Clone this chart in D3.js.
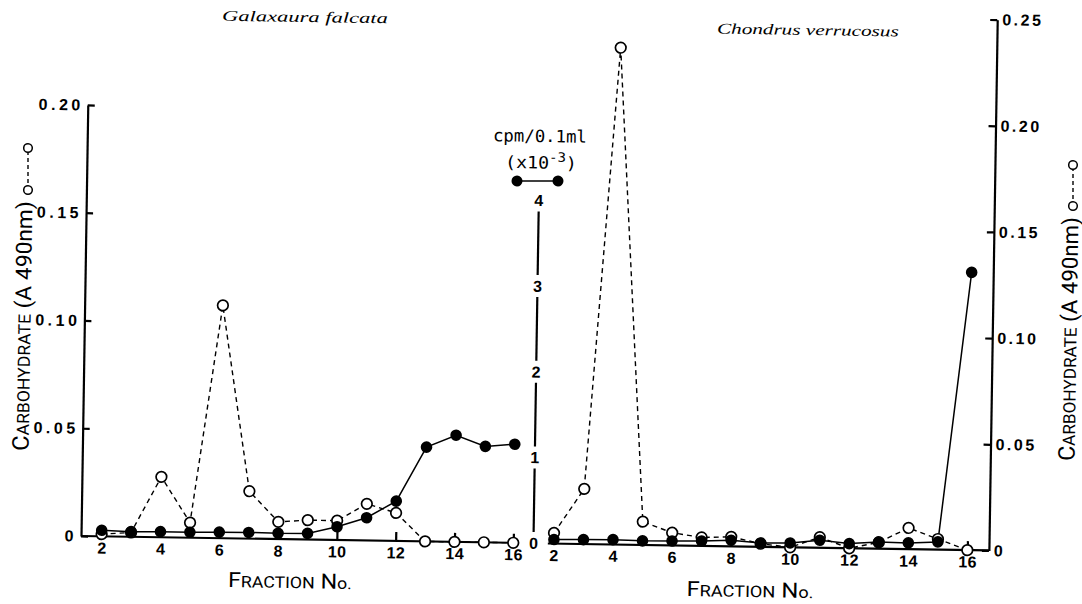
<!DOCTYPE html>
<html>
<head>
<meta charset="utf-8">
<script src="https://cdn.jsdelivr.net/npm/d3@7/dist/d3.min.js"></script>
<style>
html,body{margin:0;padding:0;background:#fff;}
svg{display:block;}
</style>
</head>
<body>
<svg id="chart" width="1082" height="604"></svg>
<script>
// ---------------- data ----------------
const fractions = [2, 3, 4, 5, 6, 7, 8, 9, 10, 11, 12, 13, 14, 15, 16];
// Galaxaura falcata
const galaxauraCarbohydrate = [0.001, 0.002, 0.028, 0.007, 0.108, 0.022, 0.008, 0.009, 0.009, 0.017, 0.013, 0.000, 0.000, 0.000, 0.000];
const galaxauraCpm = [0.07, 0.06, 0.065, 0.064, 0.07, 0.072, 0.068, 0.072, 0.155, 0.265, 0.465, 1.10, 1.245, 1.12, 1.15];
// Chondrus verrucosus
const chondrusCarbohydrate = [0.005, 0.026, 0.234, 0.011, 0.006, 0.004, 0.0045, 0.0015, 0.000, 0.005, 0.000, 0.003, 0.010, 0.005, 0.000];
const chondrusCpm = [0.045, 0.05, 0.055, 0.046, 0.05, 0.055, 0.07, 0.043, 0.049, 0.086, 0.052, 0.077, 0.071, 0.088, 3.24];
// ticks
const fractionTicks = [2, 4, 6, 8, 10, 12, 14, 16];
const galaxauraCarbTicks = [0, 0.05, 0.10, 0.15, 0.20];
const chondrusCarbTicks = [0, 0.05, 0.10, 0.15, 0.20, 0.25];
const cpmTicks = [0, 1, 2, 3, 4];
const titles = ["Galaxaura falcata", "Chondrus verrucosus"];

// ---------------- layout ----------------
// the scanned figure is rotated slightly clockwise
const ROT = 0.9, CX = 540, CY = 540;
const rad = ROT * Math.PI / 180;
function P(x, y) { // screen point -> unrotated frame
  const dx = x - CX, dy = y - CY;
  return [CX + dx * Math.cos(rad) + dy * Math.sin(rad), CY - dx * Math.sin(rad) + dy * Math.cos(rad)];
}
const LAX = 81, MAX = 533.5, RAX = 989;
const xL = d3.scaleLinear().domain([2, 16]).range([101.6, 513.3]);
const yL = d3.scaleLinear().domain([0, 0.20]).range([543.2, 112.1]);
const xR = d3.scaleLinear().domain([2, 16]).range([553.9, 967.4]);
const yR = d3.scaleLinear().domain([0, 0.25]).range([543.4, 12.5]);
const yM = d3.scaleLinear().domain([0, 4]).range([543.2, 200.5]);

const tickFamily = '"Liberation Sans", Arial, sans-serif';
const fmt = d => d === 0 ? "0" : d3.format(".2f")(d);

const svg = d3.select("#chart");
svg.append("rect").attr("width", 1082).attr("height", 604).attr("fill", "#fff");
const root = svg.append("g").attr("transform", `rotate(${ROT} ${CX} ${CY})`);

function styleText(sel, size, spacing) {
  sel.attr("fill", "#000").attr("font-family", tickFamily).attr("font-size", size)
    .attr("font-weight", "bold").style("letter-spacing", spacing + "px");
}
function styleAxis(g, size, spacing) {
  g.attr("font-family", tickFamily).attr("font-size", size);
  g.selectAll(".domain").attr("stroke", "#000").attr("stroke-width", 2.2);
  g.selectAll(".tick line").attr("stroke", "#000").attr("stroke-width", 2.2);
  styleText(g.selectAll(".tick text"), size, spacing);
}

// ---------- left y axis (carbohydrate, Galaxaura) ----------
const gLy = root.append("g").attr("transform", `translate(${LAX},0)`)
  .call(d3.axisLeft(yL).tickValues(galaxauraCarbTicks).tickFormat(fmt)
    .tickSizeInner(-7).tickSizeOuter(0).tickPadding(4));
styleAxis(gLy, 16, 3.5);

// ---------- right y axis (carbohydrate, Chondrus) ----------
const gRy = root.append("g").attr("transform", `translate(${RAX},0)`)
  .call(d3.axisRight(yR).tickValues(chondrusCarbTicks).tickFormat(fmt)
    .tickSizeInner(-7).tickSizeOuter(0).tickPadding(5));
styleAxis(gRy, 16, 2.5);

// ---------- x axes ----------
const gLx = root.append("g").attr("transform", `translate(0,${yL(0)})`)
  .call(d3.axisBottom(xL).tickValues(fractionTicks).tickSizeInner(-9).tickSizeOuter(0).tickPadding(6));
styleAxis(gLx, 16, 0.5);
gLx.select(".domain").remove();
root.append("line").attr("x1", LAX).attr("x2", xL(16) + 3).attr("y1", yL(0)).attr("y2", yL(0))
  .attr("stroke", "#000").attr("stroke-width", 2.2);

const gRx = root.append("g").attr("transform", `translate(0,${yR(0)})`)
  .call(d3.axisBottom(xR).tickValues(fractionTicks).tickSizeInner(-9).tickSizeOuter(0).tickPadding(6));
styleAxis(gRx, 16, 0.5);
gRx.select(".domain").remove();
root.append("line").attr("x1", xR(2) - 6).attr("x2", RAX).attr("y1", yR(0)).attr("y2", yR(0))
  .attr("stroke", "#000").attr("stroke-width", 2.2);

// ---------- middle axis (cpm) ----------
const gM = root.append("g");
cpmTicks.forEach((t, i) => {
  const tx = gM.append("text").attr("x", MAX).attr("y", yM(t)).attr("dy", "0.36em")
    .attr("text-anchor", "middle").text(t);
  styleText(tx, 16, 0);
  if (i < cpmTicks.length - 1) {
    gM.append("line").attr("x1", MAX).attr("x2", MAX)
      .attr("y1", yM(t) - 11).attr("y2", yM(cpmTicks[i + 1]) + 11)
      .attr("stroke", "#000").attr("stroke-width", 2.2);
  }
});

// ---------- data series ----------
function drawPanel(xs, yCarb, carb, cpm) {
  const carbPts = fractions.map((f, i) => ({ f, v: carb[i] }));
  const cpmPts = fractions.map((f, i) => ({ f, v: cpm[i] }));
  root.append("path").datum(carbPts)
    .attr("d", d3.line().x(d => xs(d.f)).y(d => yCarb(d.v)))
    .attr("fill", "none").attr("stroke", "#000").attr("stroke-width", 1.4).attr("stroke-dasharray", "5,4");
  root.append("path").datum(cpmPts)
    .attr("d", d3.line().x(d => xs(d.f)).y(d => yM(d.v)))
    .attr("fill", "none").attr("stroke", "#000").attr("stroke-width", 1.5);
  root.append("g").selectAll("circle").data(carbPts).join("circle")
    .attr("cx", d => xs(d.f)).attr("cy", d => yCarb(d.v)).attr("r", 5.3)
    .attr("fill", "#fff").attr("stroke", "#000").attr("stroke-width", 1.7);
  root.append("g").selectAll("circle").data(cpmPts).join("circle")
    .attr("cx", d => xs(d.f)).attr("cy", d => yM(d.v)).attr("r", 5.8)
    .attr("fill", "#000");
}
drawPanel(xL, yL, galaxauraCarbohydrate, galaxauraCpm);
drawPanel(xR, yR, chondrusCarbohydrate, chondrusCpm);

// ---------- text helper ----------
function fitText(parts, screenCenter, len, angle, family, style) {
  const [u, v] = P(screenCenter[0], screenCenter[1]);
  const g = root.append("g");
  const t = g.append("text").attr("fill", "#000").attr("font-family", family)
    .attr("font-style", style || "normal");
  parts.forEach(p => {
    const ts = t.append("tspan").attr("font-size", p.size).text(p.text);
    if (p.dy) ts.attr("dy", p.dy);
  });
  const bb = t.node().getBBox();
  const sx = len / bb.width;
  const mx = bb.x + bb.width / 2, my = bb.y + bb.height / 2;
  g.attr("transform", `translate(${u},${v}) rotate(${angle}) scale(${sx},1) translate(${-mx},${-my})`);
}
const labFont = 'Roboto, "DejaVu Sans", sans-serif';
const yLabelParts = [{ text: "C", size: 23 }, { text: "ARBOHYDRATE", size: 17 }, { text: " (A 490nm)", size: 22 }];
const xLabelParts = [{ text: "F", size: 21 }, { text: "RACTION", size: 16 }, { text: " N", size: 21 }, { text: "o.", size: 16 }];

fitText(yLabelParts, [23, 326], 250, -90, labFont);
fitText(yLabelParts, [1069, 339], 244, -90, labFont);
fitText(xLabelParts, [290, 581], 124, 0, labFont);
fitText(xLabelParts, [750, 590], 127, 0, labFont);

// titles
fitText([{ text: titles[0], size: 15 }], [305, 17], 166, 0, '"Liberation Serif", serif', "italic");
fitText([{ text: titles[1], size: 15 }], [808, 30], 182, 0, '"Liberation Serif", serif', "italic");

// cpm legend
const monoFont = '"DejaVu Sans Mono", "Liberation Mono", monospace';
fitText([{ text: "cpm/0.1ml", size: 17 }], [540, 136], 94, 0, monoFont);
fitText([{ text: "(x10", size: 17 }, { text: "-3", size: 13, dy: -7 }, { text: ")", size: 17, dy: 7 }], [541, 161], 72, 0, monoFont);

// symbol keys
function key(a, b, filled) {
  const A = P(a[0], a[1]), B = P(b[0], b[1]);
  root.append("line").attr("x1", A[0]).attr("y1", A[1]).attr("x2", B[0]).attr("y2", B[1])
    .attr("stroke", "#000").attr("stroke-width", 1.4).attr("stroke-dasharray", filled ? null : "4,3");
  [A, B].forEach(p => {
    root.append("circle").attr("cx", p[0]).attr("cy", p[1]).attr("r", filled ? 5.5 : 4.3)
      .attr("fill", filled ? "#000" : "#fff").attr("stroke", "#000").attr("stroke-width", filled ? 0 : 1.5);
  });
}
key([517, 181], [558, 181], true);
key([28, 190], [28, 148], false);
key([1073, 206], [1073, 165], false);
</script>
</body>
</html>
